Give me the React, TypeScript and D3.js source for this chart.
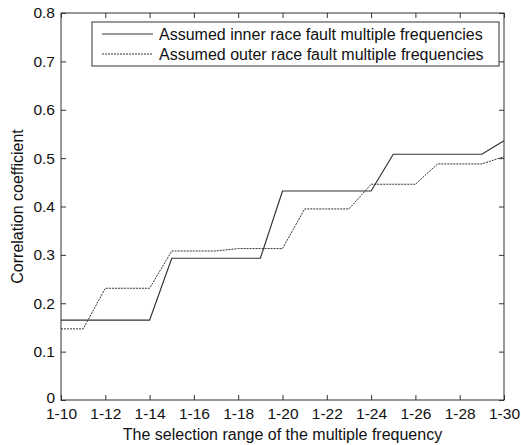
import React, { useEffect, useRef } from "react";
import * as d3 from "d3";

// x categories: selection range 1-10 ... 1-30
const ranges = d3.range(10, 31).map((n) => `1-${n}`);
const tickRanges = d3.range(10, 31, 2).map((n) => `1-${n}`);

// correlation coefficients
const innerFault = [
  0.165, 0.165, 0.165, 0.165, 0.165, 0.293, 0.293, 0.293, 0.293, 0.293, 0.432,
  0.432, 0.432, 0.432, 0.432, 0.508, 0.508, 0.508, 0.508, 0.508, 0.536,
];
const outerFault = [
  0.147, 0.147, 0.231, 0.231, 0.231, 0.308, 0.308, 0.308, 0.313, 0.313, 0.313,
  0.395, 0.395, 0.395, 0.446, 0.446, 0.446, 0.488, 0.488, 0.488, 0.503,
];
const yTicks = [0, 0.1, 0.2, 0.3, 0.4, 0.5, 0.6, 0.7, 0.8];

const seriesNames = [
  "Assumed inner race fault multiple frequencies",
  "Assumed outer race fault multiple frequencies",
];

const W = 521;
const H = 445;

const App = () => {
  const svgRef = useRef<SVGSVGElement>(null);

  useEffect(() => {
    const svg = d3.select(svgRef.current);
    svg.selectAll("*").remove();

    const margin = { left: 61, right: 17, top: 13, bottom: 45 };
    const innerW = W - margin.left - margin.right;
    const innerH = H - margin.top - margin.bottom;
    const font = "'Liberation Sans', Arial, sans-serif";
    const ink = "#333";

    const x = d3.scalePoint().domain(ranges).range([0, innerW]);
    const y = d3.scaleLinear().domain([0, 0.8]).range([innerH, 0]);

    const chart = svg
      .append("g")
      .attr("transform", `translate(${margin.left},${margin.top})`);

    // frame
    chart
      .append("rect")
      .attr("width", innerW)
      .attr("height", innerH)
      .attr("fill", "none")
      .attr("stroke", ink)
      .attr("stroke-width", 1);

    const styleAxis = (g, hideText) => {
      g.select(".domain").remove();
      g.selectAll("line").attr("stroke", ink);
      g.selectAll("text")
        .attr("font-family", font)
        .attr("font-size", 15.5)
        .attr("fill", "#111");
      if (hideText) g.selectAll("text").remove();
    };

    // bottom axis (ticks inside)
    chart
      .append("g")
      .attr("transform", `translate(0,${innerH})`)
      .call(d3.axisBottom(x).tickValues(tickRanges).tickSize(-5).tickPadding(8))
      .call((g) => styleAxis(g, false));

    // top axis mirror
    chart
      .append("g")
      .call(d3.axisTop(x).tickValues(tickRanges).tickSize(-5))
      .call((g) => styleAxis(g, true));

    // left axis
    chart
      .append("g")
      .call(
        d3
          .axisLeft(y)
          .tickValues(yTicks)
          .tickSize(-5)
          .tickPadding(6)
          .tickFormat((d) => (d === 0 ? "0" : d3.format(".1f")(d)))
      )
      .call((g) => styleAxis(g, false))
      // lift the "0" a little so it clears the first x label
      .call((g) => g.selectAll("text").filter((d) => d === 0).attr("dy", "0.15em"));

    // right axis mirror
    chart
      .append("g")
      .attr("transform", `translate(${innerW},0)`)
      .call(d3.axisRight(y).tickValues(yTicks).tickSize(-5))
      .call((g) => styleAxis(g, true));

    const line = d3
      .line<number>()
      .x((_, i) => x(ranges[i]))
      .y((d) => y(d));

    chart
      .append("path")
      .datum(innerFault)
      .attr("d", line)
      .attr("fill", "none")
      .attr("stroke", ink)
      .attr("stroke-width", 1.2);

    chart
      .append("path")
      .datum(outerFault)
      .attr("d", line)
      .attr("fill", "none")
      .attr("stroke", ink)
      .attr("stroke-width", 1)
      .attr("stroke-dasharray", "2,1");

    // legend
    const legend = chart.append("g").attr("transform", `translate(${92 - margin.left},${22 - margin.top})`);
    legend
      .append("rect")
      .attr("width", 407)
      .attr("height", 44)
      .attr("fill", "#fff")
      .attr("stroke", ink);
    seriesNames.forEach((name, i) => {
      const cy = 12 + i * 20;
      legend
        .append("line")
        .attr("x1", 10)
        .attr("x2", 61)
        .attr("y1", cy)
        .attr("y2", cy)
        .attr("stroke", ink)
        .attr("stroke-width", i === 0 ? 1.2 : 1)
        .attr("stroke-dasharray", i === 0 ? null : "2,1");
      legend
        .append("text")
        .attr("x", 67)
        .attr("y", cy)
        .attr("dy", "0.35em")
        .attr("font-family", font)
        .attr("font-size", 16)
        .attr("fill", "#111")
        .text(name);
    });

    // axis titles
    svg
      .append("text")
      .attr("x", margin.left + innerW / 2)
      .attr("y", 440)
      .attr("text-anchor", "middle")
      .attr("font-family", font)
      .attr("font-size", 16)
      .attr("fill", "#111")
      .text("The selection range of the multiple frequency");

    svg
      .append("text")
      .attr("transform", `translate(23,${margin.top + innerH / 2}) rotate(-90)`)
      .attr("text-anchor", "middle")
      .attr("font-family", font)
      .attr("font-size", 16)
      .attr("fill", "#111")
      .text("Correlation coefficient");
  }, []);

  return (
    <svg
      ref={svgRef}
      width={W}
      height={H}
      style={{ position: "absolute", left: 0, top: 0, background: "#fff" }}
    />
  );
};

export default App;
